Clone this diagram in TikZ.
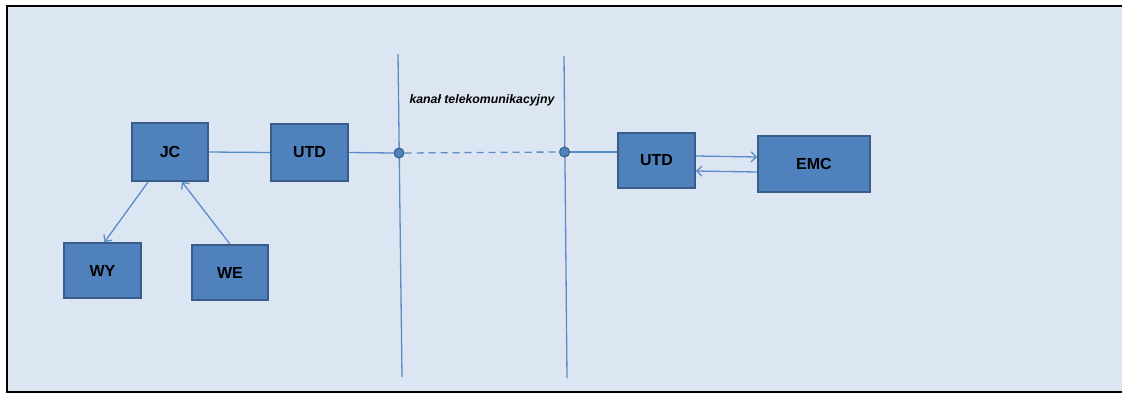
\documentclass[tikz,border=0pt]{standalone}
\usepackage{fontspec}
\setmainfont{Liberation Sans}
\usetikzlibrary{positioning,arrows.meta}
\definecolor{bgblue}{HTML}{DCE6F2}
\definecolor{boxblue}{HTML}{4F81BD}
\definecolor{boxline}{HTML}{385D8A}
\definecolor{wireblue}{HTML}{5B8CC8}

\begin{document}
\begin{tikzpicture}[x=1pt, y=-1pt,
boxnode/.style={rectangle, draw=boxline, fill=boxblue, line width=1.8pt, font=\fontsize{16}{16}\selectfont\bfseries, inner sep=0pt},
dotnode/.style={circle, draw=boxline, fill=boxblue, line width=1pt, minimum size=10pt, inner sep=0pt},
wire/.style={draw=wireblue, line width=1.3pt},
tip/.style={-{Straight Barb[length=5pt,width=10pt]}},
]
\useasboundingbox (0,0) rectangle (1122,394);
%Background
\fill[bgblue] (7,6) rectangle (1122,392);
\draw[line width=2.2pt, line cap=rect] (1122,6) -- (7,6) -- (7,392) -- (1122,392);

%Nodes
\node[boxnode, minimum width=76pt, minimum height=58pt] (JC)   at (170,152) {JC};
\node[boxnode, minimum width=77pt, minimum height=57pt] (UTDa) at (309.5,152.5) {UTD};
\node[boxnode, minimum width=77pt, minimum height=55pt] (WY)   at (102.5,270.5) {WY};
\node[boxnode, minimum width=76pt, minimum height=55pt] (WE)   at (230,272.5) {WE};
\node[boxnode, minimum width=77pt, minimum height=55pt] (UTDb) at (656.5,160.5) {UTD};
\node[boxnode, minimum width=112pt, minimum height=56pt] (EMC)  at (814,164) {EMC};
\node[font=\fontsize{12.3}{12.3}\selectfont\bfseries\itshape] (kanal) at (482,100) {kanał telekomunikacyjny};

%Channel borders
\coordinate (La) at (398,54);
\coordinate (Lb) at (402,377);
\coordinate (Ra) at (564,56);
\coordinate (Rb) at (567,378);
\draw[wire] (La) -- (Lb);
\draw[wire] (Ra) -- (Rb);
\node[dotnode] (dotL) at (399,153) {};
\node[dotnode] (dotR) at (564.5,152) {};

%Lines
\draw[wire] (JC.east) -- (UTDa.west);
\draw[wire] (UTDa.east) -- (dotL.west);
\draw[wire, dash pattern=on 7pt off 5pt] (dotL.east) -- (dotR.west);
\draw[wire] (dotR.east) -- (dotR.east -| UTDb.west);
\draw[wire, tip] (JC.south west) ++(17,0) -- ([xshift=2pt]WY.north);
\draw[wire, tip] (WE.north) -- ([xshift=12pt]JC.south);
\draw[wire, tip] ([yshift=4.5pt]UTDb.east) -- ([yshift=7pt]EMC.west);
\draw[wire, tip] ([yshift=-8pt]EMC.west) -- ([yshift=-10.5pt]UTDb.east);
\end{tikzpicture}
\end{document}
